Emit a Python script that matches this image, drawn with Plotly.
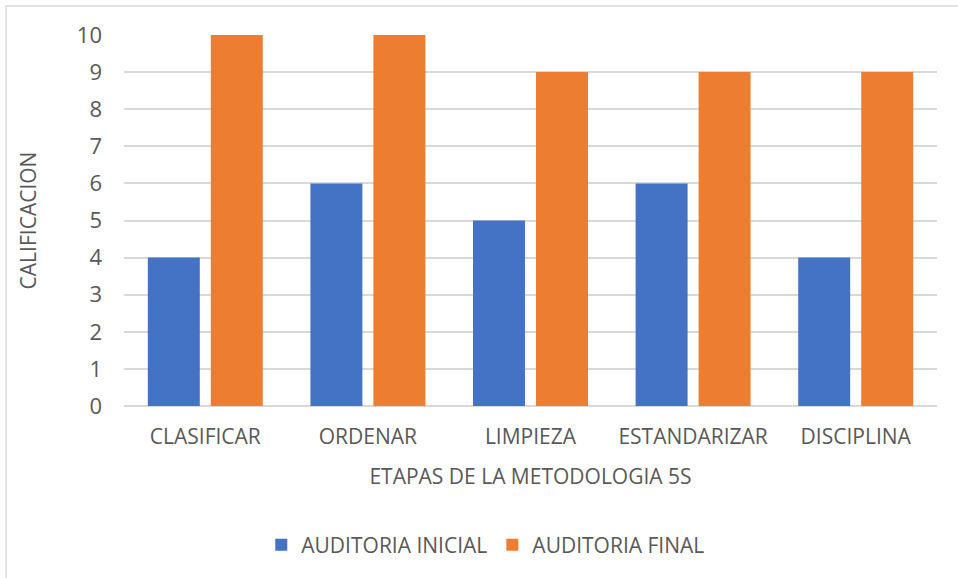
import plotly.graph_objects as go

categories = ["CLASIFICAR", "ORDENAR", "LIMPIEZA", "ESTANDARIZAR", "DISCIPLINA"]
inicial = [4, 6, 5, 6, 4]
final = [10, 10, 9, 9, 9]
y_ticks = list(range(0, 11))

FONT = "'Open Sans', sans-serif"
GRAY = "#595959"

fig = go.Figure()
fig.add_trace(go.Bar(name="AUDITORIA INICIAL", x=categories, y=inicial,
                     marker=dict(color="#4472C4", line=dict(width=0))))
fig.add_trace(go.Bar(name="AUDITORIA FINAL", x=categories, y=final,
                     marker=dict(color="#ED7D31", line=dict(width=0))))

L, R, T, B = 124, 21, 35, 172
W, H = 958, 578
pw, ph = W - L - R, H - T - B

fig.update_layout(
    width=W, height=H,
    margin=dict(l=L, r=R, t=T, b=B),
    paper_bgcolor="white", plot_bgcolor="white",
    barmode="group", bargap=0.225, bargroupgap=0.175,
    font=dict(family=FONT, color=GRAY),
    showlegend=True,
    legend=dict(orientation="h", x=0.445, xanchor="center", y=(H - 545 - B) / ph, yanchor="middle",
                font=dict(size=21, color=GRAY), itemwidth=30, traceorder="normal"),
    xaxis=dict(
        tickfont=dict(size=21, color=GRAY), showgrid=False, showline=False,
        ticks="", ticklabelstandoff=16,
        title=dict(text="ETAPAS DE LA METODOLOGIA 5S", font=dict(size=21, color=GRAY), standoff=20),
    ),
    yaxis=dict(
        range=[0, 10], tickvals=y_ticks, tickfont=dict(size=22, color=GRAY),
        showgrid=True, gridcolor="#D9D9D9", gridwidth=1.5,
        zeroline=True, zerolinecolor="#D9D9D9", zerolinewidth=1.5,
        showline=False, ticks="", ticklabelstandoff=21,
        title=dict(text="CALIFICACION", font=dict(size=21, color=GRAY), standoff=34),
    ),
    shapes=[dict(type="rect", xref="paper", yref="paper",
                 x0=(6 - L) / pw, x1=1.5, y0=-1.0, y1=(H - B - 6) / ph,
                 line=dict(color="#D9D9D9", width=1.5), fillcolor="rgba(0,0,0,0)", layer="below")],
)

fig.write_html("out.html")
